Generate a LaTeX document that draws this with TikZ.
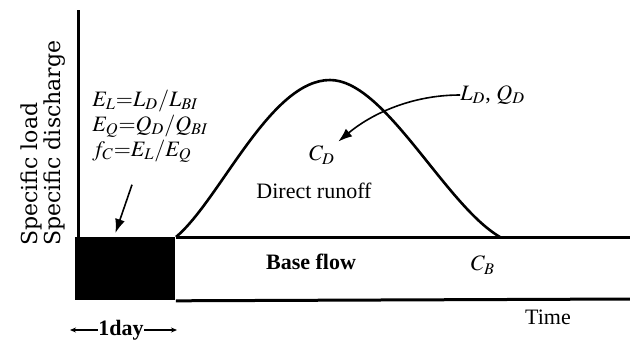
\documentclass[tikz,border=0pt]{standalone}
\usepackage{mathptmx}
\usepackage[no-math]{fontspec}
\setmainfont{Liberation Serif}
\newfontfamily\axisfont{DejaVu Serif}
\usetikzlibrary{arrows.meta}

\begin{document}
\begin{tikzpicture}[
    x=0.5pt, y=-0.5pt,
    font=\fontsize{11}{12.5}\selectfont,
    axis/.style={line width=1.5pt},
    hydro/.style={line width=1.3pt},
    arrow/.style={-{Latex[length=7pt, width=5pt]}, line width=0.8pt},
    dayarrow/.style={-{Stealth[length=3pt, width=2.5pt]}, line width=0.6pt},
    txt/.style={inner sep=0pt},
    formula/.style={inner sep=0pt, anchor=base west}
]
\useasboundingbox (0,0) rectangle (630,339);

% axes and base flow band
\draw[axis] (78,10) -- (78,299);
\node[fill=black, inner sep=0pt, minimum width=50pt, minimum height=31.5pt, anchor=north west] (daybox) at (75,237) {};
\draw[axis] (daybox.north east) -- (630,237);
\draw[axis] (daybox.south east) -- (630,299);

% hydrograph
\draw[hydro] (176,237) .. controls (220,200) and (270,80) .. (330,80)
    .. controls (385,80) and (445,205) .. (500,237);

% labels
\node[txt, rotate=90, align=left, anchor=north west, font=\axisfont\fontsize{11}{10}\selectfont] (ylabel) at (20,246) {Specific load\\Specific discharge};
\node[formula] (formL) at (92,106) {$E_L{=}L_D/L_{BI}$};
\node[formula] (formQ) at (92,131) {$E_Q{=}Q_D/Q_{BI}$};
\node[formula] (formC) at (92,156) {$f_C{=}E_L/E_Q$};
\node[txt] (cd) at (322,155) {$C_D$};
\node[txt] (runoff) at (314,191) {Direct runoff};
\node[txt, anchor=west] (ld) at (460,95) {$L_D$, $Q_D$};
\node[txt, font=\fontsize{11}{12.5}\selectfont\bfseries] (base) at (311,262) {Base flow};
\node[txt] (cb) at (483,265) {$C_B$};
\node[txt] (time) at (548,317) {Time};
\node[txt, font=\fontsize{11}{12.5}\selectfont\bfseries] (day) at (121,330) {1day};
\coordinate (dayleft) at (70,330);
\coordinate (dayright) at (177,330);

% arrows
\draw[arrow] ([shift={(-10,22)}]formC.south) -- ([shift={(-10,-4)}]daybox.north);
\draw[arrow] (ld.west) .. controls (410,95) and (370,115) .. ([shift={(3,-4)}]cd.north east);
\draw[dayarrow] (day.west) -- (dayleft);
\draw[dayarrow] (day.east) -- (dayright);
\end{tikzpicture}
\end{document}
